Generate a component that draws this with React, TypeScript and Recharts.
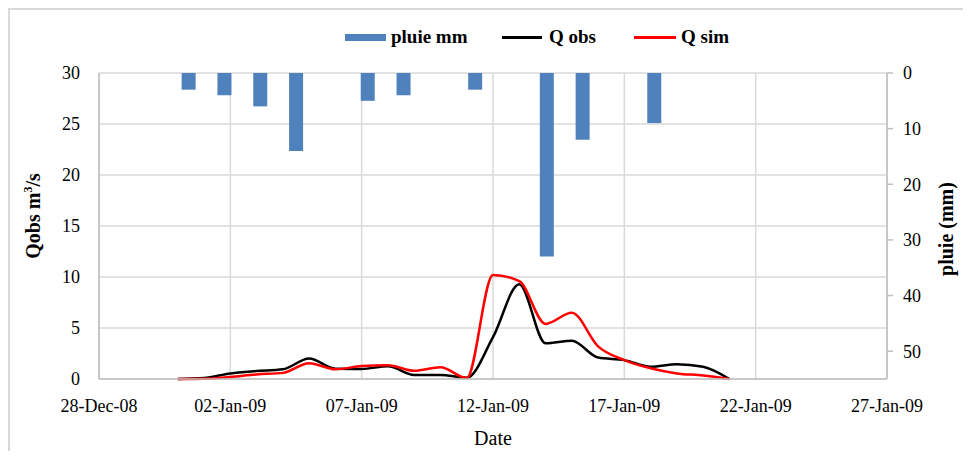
import {
  ComposedChart,
  Bar,
  Line,
  XAxis,
  YAxis,
  CartesianGrid,
} from "recharts";

// one row per day, 31-Dec-08 .. 21-Jan-09
const dates = [
  "2008-12-31", "2009-01-01", "2009-01-02", "2009-01-03", "2009-01-04", "2009-01-05",
  "2009-01-06", "2009-01-07", "2009-01-08", "2009-01-09", "2009-01-10", "2009-01-11",
  "2009-01-12", "2009-01-13", "2009-01-14", "2009-01-15", "2009-01-16", "2009-01-17",
  "2009-01-18", "2009-01-19", "2009-01-20", "2009-01-21",
];
const qObs = [0, 0.1, 0.55, 0.78, 0.95, 2.0, 1.0, 0.98, 1.25, 0.4, 0.4, 0.12, 4.1, 9.3, 3.5, 3.75, 2.1, 1.85, 1.2, 1.45, 1.2, 0];
const qSim = [0, 0.02, 0.2, 0.45, 0.6, 1.55, 0.95, 1.27, 1.35, 0.8, 1.15, 0.1, 10.2, 9.6, 5.4, 6.5, 3.2, 1.85, 1.05, 0.55, 0.35, 0];
const pluie = [null, null, 3, 4, 6, 14, null, 5, 4, null, 3, null, 33, 12, null, 9, null, null, null, null, null, null];

const tickDates = ["2008-12-28", "2009-01-02", "2009-01-07", "2009-01-12", "2009-01-17", "2009-01-22", "2009-01-27"];
const tickLabels = ["28-Dec-08", "02-Jan-09", "07-Jan-09", "12-Jan-09", "17-Jan-09", "22-Jan-09", "27-Jan-09"];
const qTicks = [0, 5, 10, 15, 20, 25, 30];
const pluieTicks = [0, 10, 20, 30, 40, 50];

const toDay = (s: string) => Date.parse(s + "T00:00:00Z") / 86400000;
const xTicks = tickDates.map(toDay);

const data = dates.map((d, i) => ({
  t: toDay(d),
  idx: i,
  qobs: qObs[i],
  qsim: qSim[i],
  pluie: pluie[i],
}));

const FONT = '"Liberation Serif", "Times New Roman", serif';
const GRID = "#d9d9d9";
const AXIS = "#bfbfbf";

export default function App() {
  return (
    <div
      style={{
        position: "relative",
        width: 955,
        height: 443,
        borderLeft: `2px solid ${GRID}`,
        borderTop: `2px solid ${GRID}`,
        boxSizing: "border-box",
        fontFamily: FONT,
        background: "#fff",
      }}
    >
      <ComposedChart
        width={953}
        height={441}
        data={data}
        margin={{ top: 63, right: 24, bottom: 42, left: 27 }}
        style={{ fontFamily: FONT }}
      >
        <CartesianGrid
          xAxisId="date"
          yAxisId="q"
          stroke={GRID}
          strokeWidth={1.5}
        />
        <XAxis
          xAxisId="date"
          dataKey="t"
          type="number"
          domain={[xTicks[0], xTicks[xTicks.length - 1]]}
          ticks={xTicks}
          tickFormatter={(v: number) => tickLabels[xTicks.indexOf(v)]}
          allowDataOverflow
          stroke={AXIS}
          strokeWidth={1.5}
          tickLine={false}
          tickMargin={14}
          tick={{ fill: "#000", fontSize: 18 }}
          height={30}
        />
        <XAxis xAxisId="bar" dataKey="idx" type="category" hide height={0} />
        <YAxis
          yAxisId="q"
          domain={[0, 30]}
          ticks={qTicks}
          stroke={AXIS}
          strokeWidth={1.5}
          tickLine={false}
          tickMargin={13}
          tick={{ fill: "#000", fontSize: 18 }}
          width={62}
        />
        <YAxis
          yAxisId="rain"
          orientation="right"
          reversed
          domain={[0, 55]}
          ticks={pluieTicks}
          stroke={AXIS}
          strokeWidth={1.5}
          tickSize={6}
          tickMargin={10}
          tick={{ fill: "#000", fontSize: 18 }}
          width={52}
        />
        <Bar
          xAxisId="bar"
          yAxisId="rain"
          dataKey="pluie"
          fill="#4f81bd"
          barSize={14}
          isAnimationActive={false}
        />
        <Line
          xAxisId="date"
          yAxisId="q"
          type="monotone"
          dataKey="qobs"
          stroke="#000"
          strokeWidth={2.5}
          dot={false}
          isAnimationActive={false}
        />
        <Line
          xAxisId="date"
          yAxisId="q"
          type="monotone"
          dataKey="qsim"
          stroke="#ff0000"
          strokeWidth={2.5}
          dot={false}
          isAnimationActive={false}
        />
      </ComposedChart>

      {/* legend, drawn like Excel's: swatch touching label */}
      <svg
        width={953}
        height={40}
        style={{ position: "absolute", left: 0, top: 0, fontFamily: FONT }}
      >
        <rect x={335} y={24} width={41} height={7} fill="#4f81bd" />
        <text x={381} y={33} fontSize={19} fontWeight="bold">pluie mm</text>
        <line x1={492} x2={532} y1={27.5} y2={27.5} stroke="#000" strokeWidth={3} />
        <text x={539} y={33} fontSize={19} fontWeight="bold">Q obs</text>
        <line x1={624} x2={666} y1={27.5} y2={27.5} stroke="#ff0000" strokeWidth={3} />
        <text x={671} y={33} fontSize={19} fontWeight="bold">Q sim</text>
      </svg>

      {/* axis titles */}
      <div
        style={{
          position: "absolute",
          left: 23,
          top: 206,
          transform: "translate(-50%, -50%) rotate(-90deg)",
          fontWeight: "bold",
          fontSize: 20,
          whiteSpace: "nowrap",
        }}
      >
        Qobs m<sup style={{ fontSize: 12 }}>3</sup>/s
      </div>
      <div
        style={{
          position: "absolute",
          left: 936,
          top: 219,
          transform: "translate(-50%, -50%) rotate(-90deg)",
          fontWeight: "bold",
          fontSize: 20,
          whiteSpace: "nowrap",
        }}
      >
        pluie  (mm)
      </div>
      <div
        style={{
          position: "absolute",
          left: 483,
          top: 428,
          transform: "translate(-50%, -50%)",
          fontSize: 20,
          whiteSpace: "nowrap",
        }}
      >
        Date
      </div>
    </div>
  );
}
